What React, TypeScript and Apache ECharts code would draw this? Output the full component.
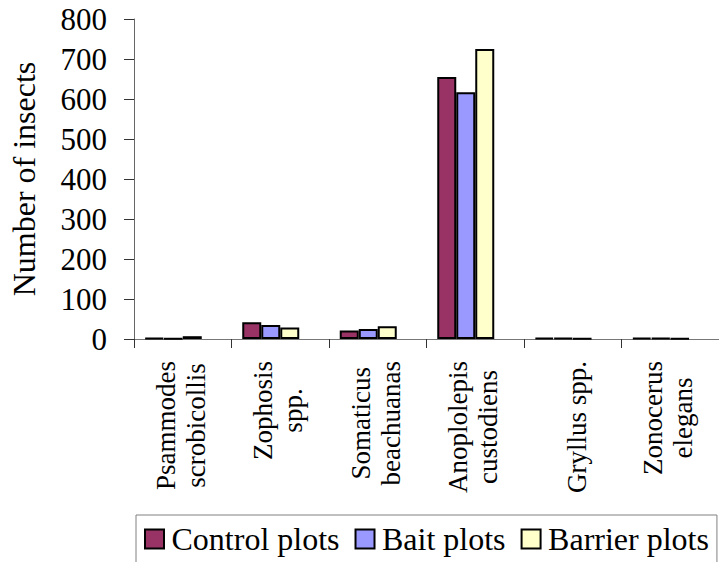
import React, { useEffect, useRef } from "react";
import * as echarts from "echarts";

const categories = [
  "Psammodes\nscrobicollis",
  "Zophosis\nspp.",
  "Somaticus\nbeachuanas",
  "Anoplolepis\ncustodiens",
  "Gryllus spp.",
  "Zonocerus\nelegans",
];
const controlPlots = [2, 42, 21, 655, 3, 3];
const baitPlots = [1, 35, 25, 617, 2, 2];
const barrierPlots = [7, 29, 32, 725, 1, 1];
const seriesNames = ["Control plots", "Bait plots", "Barrier plots"];
const seriesColors = ["#993366", "#9999FF", "#FFFFCC"];

const FONT = "Liberation Serif";

export default function App() {
  const ref = useRef<HTMLDivElement>(null);
  useEffect(() => {
    document.body.style.margin = "0";
    const chart = echarts.init(ref.current!, null, { renderer: "svg" });
    const values = [controlPlots, baitPlots, barrierPlots];
    const series: any[] = values.map((d, i) => ({
      name: seriesNames[i],
      type: "bar",
      data: d,
      barWidth: 19,
      barGap: "0%",
      itemStyle: { color: seriesColors[i], borderColor: "#000", borderWidth: 2 },
    }));
    // empty slot that reproduces the original's left-shifted bar cluster
    series.push({ name: "_slot", type: "bar", data: [], barWidth: 19, barGap: "0%", silent: true });
    const labelStyle = { align: "center", fontFamily: FONT, fontSize: 27, lineHeight: 34, color: "#000" };
    chart.setOption({
      animation: false,
      textStyle: { fontFamily: FONT, color: "#000" },
      grid: { left: 132, top: 19, width: 596, height: 320 },
      legend: {
        data: seriesNames,
        left: 136,
        top: 515,
        padding: [8, 8, 14, 8],
        borderColor: "#808080",
        borderWidth: 1,
        itemWidth: 24,
        itemHeight: 19,
        itemGap: 15,
        icon: "path://M0,0H10V10H0Z",
        textStyle: { fontFamily: FONT, fontSize: 32, color: "#000" },
      },
      xAxis: {
        type: "category",
        data: categories,
        axisLine: { lineStyle: { color: "#777", width: 1 } },
        axisTick: { show: true, length: 9, lineStyle: { color: "#333" } },
        axisLabel: {
          interval: 0,
          rotate: 90,
          margin: 22,
          color: "#000",
          fontFamily: FONT,
          fontSize: 27,
          formatter: (v: string) => {
            const lines = v.split("\n");
            if (lines.length === 1) return `{s|${v}}`;
            return lines
              .map((l, i) => (i === lines.length - 1 ? `{e|${l}}` : `{c|${l}}`))
              .join("\n");
          },
          rich: {
            c: labelStyle,
            e: { ...labelStyle, padding: [0, 0, 8, 0] },
            s: { ...labelStyle, padding: [8, 0, 0, 0] },
          },
        },
      },
      yAxis: {
        type: "value",
        min: 0,
        max: 800,
        interval: 100,
        name: "Number of insects",
        nameLocation: "middle",
        nameGap: 94,
        nameTextStyle: { fontFamily: FONT, fontSize: 32, color: "#000" },
        splitLine: { show: false },
        axisLine: { show: true, lineStyle: { color: "#666", width: 1 } },
        axisTick: { show: true, length: 10, lineStyle: { color: "#333" } },
        axisLabel: { margin: 27, fontFamily: FONT, fontSize: 31, color: "#000" },
      },
      series,
    });
    return () => chart.dispose();
  }, []);
  return <div ref={ref} style={{ width: 719, height: 562 }} />;
}
